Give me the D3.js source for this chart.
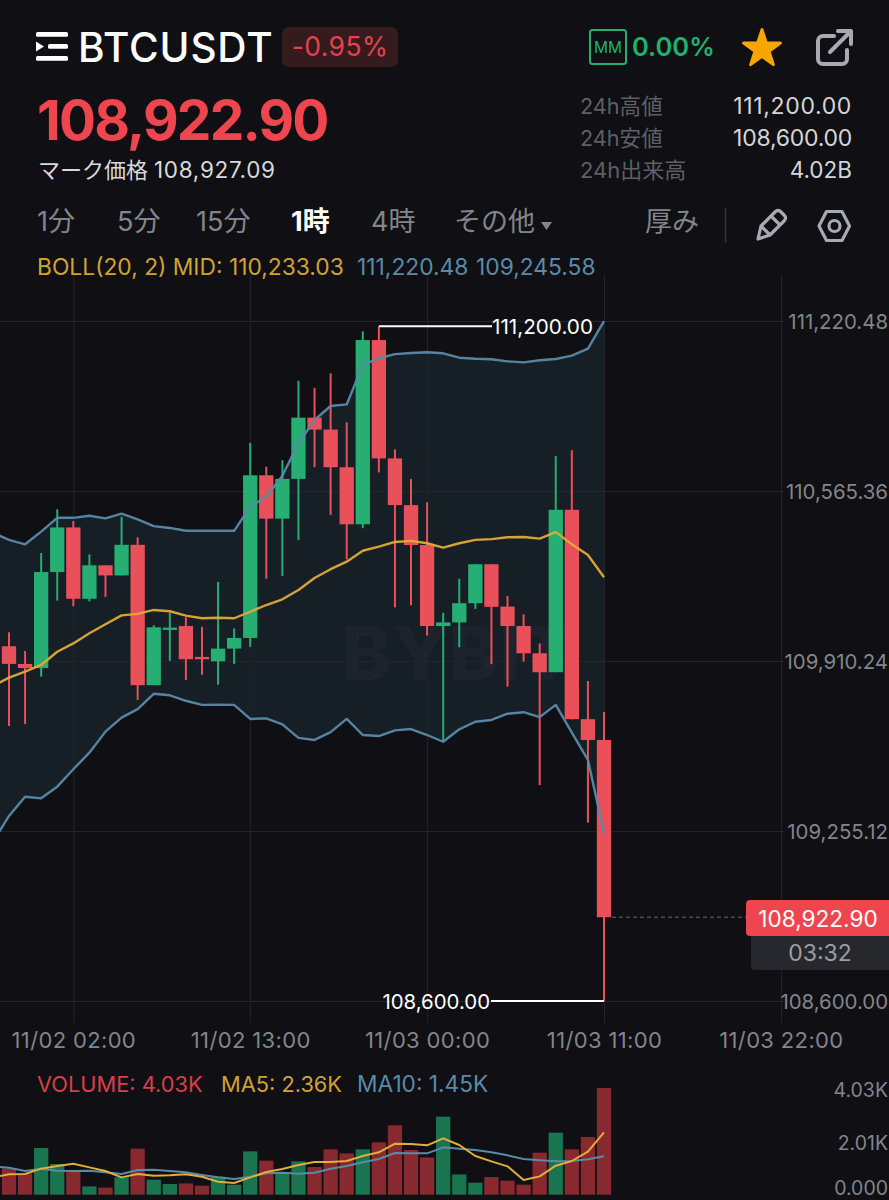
<!DOCTYPE html>
<html><head><meta charset="utf-8">
<script src="https://cdn.jsdelivr.net/npm/d3@7/dist/d3.min.js"></script>
<style>
html,body{margin:0;padding:0;background:#0f0f14;overflow:hidden}
svg{display:block}
text{font-family:Inter,"Noto Sans CJK JP",sans-serif}
</style></head><body>
<svg id="c" width="889" height="1200"></svg>
<script>
// ---------- data ----------
const firstHour = Date.UTC(2025,10,1,22);
const opens  = [109967,109899,109883,110253,110425,110150,110279,110240,110358,109817,110030,110045,109926,109909,109958,109999,110626,110459,110612,110848,110802,110657,110437,111147,110691,110511,110357,110045,110059,110133,110283,110120,110045,109940,109867,110493,109686,109606];
const closes = [109899,109883,110253,110425,110150,110279,110240,110358,109817,110040,110039,109917,109917,109958,109999,110626,110459,110612,110848,110802,110657,110437,111147,110691,110511,110357,110045,110059,110133,110283,110119,110045,109940,109867,110493,109686,109606,108922.9];
const highs  = [110021,109949,110326,110495,110450,110321,110279,110466,110387,110048,110096,110079,110042,110215,110036,110751,110659,110684,110990,110963,111019,110830,111181,111200,110726,110612,110522,110096,110227,110283,110283,110161,110090,109978,110700,110722,109833,109714];
const lows   = [109660,109667,109850,110143,110121,110140,110157,110240,109760,109817,109911,109837,109857,109819,109899,109965,110227,110238,110376,110657,110473,110302,110422,110637,110117,110125,110008,109602,109963,110111,109898,109811,109908,109432,109867,109686,109287,108600];
const bollMid = [109814,109846,109869,109895,109946,109978,110017,110052,110086,110092,110107,110102,110085,110075,110077,110075,110100,110126,110148,110184,110230,110264,110293,110335,110351,110369,110373,110364,110347,110364,110377,110380,110387,110388,110382,110407,110360,110319,110233];
const bollUp  = [110405,110377,110360,110409,110462,110462,110470,110460,110478,110456,110430,110423,110412,110412,110412,110412,110505,110543,110624,110749,110839,110893,110899,111051,111077,111093,111097,111100,111096,111079,111075,111073,111065,111061,111069,111074,111087,111114,111220];
const bollLow = [109213,109313,109387,109381,109426,109493,109557,109638,109692,109725,109784,109778,109757,109741,109742,109741,109687,109689,109666,109614,109606,109636,109687,109625,109621,109643,109648,109625,109599,109647,109676,109683,109707,109713,109694,109741,109634,109529,109246];
const volumes = [994,805,1765,1160,869,314,265,654,1739,567,404,427,340,680,378,1637,1285,805,1259,1047,1712,1561,1712,1977,2620,1690,1410,2948,767,454,669,529,378,1588,2344,1712,2181,4030];
const ma5  = [655,769,781,983,1084,1172,1033,895,655,781,718,731,769,680,491,441,655,857,970,1121,1235,1235,1273,1462,1600,1928,1915,1865,2129,1877,1462,1260,1071,554,693,1096,1273,1625,2356];
const ma10 = [1058,1021,895,983,907,895,907,844,781,932,945,895,844,743,655,592,680,806,832,794,832,983,1084,1222,1348,1575,1562,1562,1789,1739,1688,1600,1487,1348,1298,1260,1273,1336,1449];
const priceTicks = [111220.48,110565.36,109910.24,109255.12,108600];
const volTicks = [[4030,"4.03K"],[2015,"2.01K"],[0,"0.000"]];
const timeTicks = [Date.UTC(2025,10,2,2),Date.UTC(2025,10,2,13),Date.UTC(2025,10,3,0),Date.UTC(2025,10,3,11),Date.UTC(2025,10,3,22)];
const tabs = [["1分",37],["5分",117],["15分",196],["4時",371],["その他",454],["厚み",645]];
const stats = [["24h高値","111,200.00"],["24h安値","108,600.00"],["24h出来高","4.02B"]];

// ---------- palette ----------
const GRID="#23252b",RED="#e9505a",GREEN="#27ae72",VRED="#87292f",VGREEN="#1b7450",
      BLUE="#5a8aa8",YEL="#e0aa38",GRAY="#82858b",DIM="#5d6066";

const svg=d3.select("#c");
const H=3600000;
const t=i=>new Date(firstHour+i*H);
const x=d3.scaleUtc().domain([t(0),t(37)]).range([9,604]);
const y=d3.scaleLinear().domain([108600,111220.48]).range([1001,321]);
const vy=d3.scaleLinear().domain([0,4030]).range([1194.7,1088]);
const txt=(px,py,s,size,fill,o={})=>svg.append("text").attr("x",px).attr("y",py).text(s)
  .attr("font-size",size).attr("fill",fill).attr("text-anchor",o.a||"start").attr("font-weight",o.w||400)
  .attr("letter-spacing",o.ls||null);

// ---------- header ----------
const logo=svg.append("g").attr("fill","#fff");
[[36,32,32,4.7],[48,44,20,4.7],[36,56,32,4.7]].forEach(r=>logo.append("rect").attr("x",r[0]).attr("y",r[1]).attr("width",r[2]).attr("height",r[3]).attr("rx",1.5));
logo.append("path").attr("d","M36 41.5 L44 46.5 L36 51.5 Z");
txt(78,62,"BTCUSDT",40.5,"#fff",{w:500,ls:.8});
svg.append("rect").attr("x",282).attr("y",27).attr("width",116).attr("height",40).attr("rx",7).attr("fill","#351a1e");
txt(340,56,"-0.95%",26.5,"#e2434d",{a:"middle",ls:.4});
svg.append("rect").attr("x",590).attr("y",30).attr("width",36).attr("height",34).attr("rx",2.5).attr("fill","none").attr("stroke",GREEN).attr("stroke-width",2);
txt(608,53,"MM",15.5,GREEN,{a:"middle"});
txt(632,56,"0.00%",25.5,"#20b26c",{w:600});
svg.append("path").attr("transform","translate(762,49)")
  .attr("d",d3.symbol().type(d3.symbolStar).size(420)()).attr("fill","#f7a600").attr("stroke","#f7a600").attr("stroke-width",3).attr("stroke-linejoin","round");
svg.append("path").attr("d","M834 36 H823 a5 5 0 0 0 -5 5 V59 a5 5 0 0 0 5 5 H842 a5 5 0 0 0 5 -5 V50 M830 52 L851 31 M838 31 H851 V44")
  .attr("fill","none").attr("stroke","#a8aab0").attr("stroke-width",4).attr("stroke-linecap","round").attr("stroke-linejoin","round");

txt(37,140,"108,922.90",55,"#ef454f",{w:700,ls:-1.8});
txt(38,178,"マーク価格",22,"#d8d9dc");
txt(154,178,"108,927.09",22.5,"#d8d9dc",{ls:.7});
stats.forEach((s,i)=>{
  txt(580,114+i*32,s[0],i===2?22:21.6,DIM);
  txt(852,114+i*32,s[1],i===2?22.5:23,"#d4d5d8",{a:"end",ls:i===2?null:(i===1?-.25:.65)});
});
tabs.forEach(d=>txt(d[1],231,d[0],27,GRAY));
txt(291,231,"1時",27,"#fff",{w:700});
svg.append("path").attr("d","M541 222 H552 L546.5 230 Z").attr("fill",GRAY);
svg.append("line").attr("x1",725.5).attr("x2",725.5).attr("y1",208).attr("y2",243).attr("stroke","#303238").attr("stroke-width",1.5);
const ic=svg.append("g").attr("fill","none").attr("stroke","#a8aab0").attr("stroke-width",3.2).attr("stroke-linejoin","round").attr("stroke-linecap","round");
ic.append("path").attr("d","M758 239 L761 226 L775 212 Q778 209 781 212 L784 215 Q787 218 784 221 L770 235 Z M761 226 L770 235 M771 216 L780 225");
ic.append("path").attr("d","M819 226 L826.5 211.5 H842 L849.5 226 L842 240.5 H826.5 Z");
ic.append("circle").attr("cx",834.5).attr("cy",226).attr("r",5.5);

const lg=(px,s,f)=>txt(px,275,s,22.8,f);
lg(37,"BOLL(20, 2) MID: 110,233.03","#d0a233");
lg(357,"111,220.48",BLUE);
lg(476,"109,245.58",BLUE);

// ---------- grid & axes ----------
const axT=svg.append("g").attr("transform","translate(0,1023)")
  .call(d3.axisBottom(x).tickValues(timeTicks).tickSize(748).tickSizeOuter(0).tickFormat(d3.utcFormat("%m/%d %H:%M")));
axT.select(".domain").remove();
axT.selectAll("line").attr("y1",0).attr("y2",-748).attr("stroke",GRID).attr("stroke-width",1);
axT.selectAll("text").attr("y",25).attr("dy",0).attr("font-size",22).attr("letter-spacing",.35).attr("fill",GRAY).attr("font-family",null);

const axY=svg.append("g").call(d3.axisRight(y).tickValues(priceTicks).tickSize(784).tickFormat(d3.format(",.2f")));
axY.select(".domain").remove();
axY.selectAll("line").attr("stroke",GRID).attr("stroke-width",1);
axY.selectAll("text").attr("x",888).attr("dy",".36em").attr("text-anchor","end").attr("font-size",20.4).attr("fill",GRAY).attr("font-family",null);

// ---------- band ----------
const idx=d3.range(-1,38);
const area=d3.area().x(i=>x(t(i))).y0(i=>y(bollLow[i+1])).y1(i=>y(bollUp[i+1]));
svg.append("path").datum(idx).attr("d",area).attr("fill","#161e26");
axT.raise();axY.raise();

// watermark
txt(342,680,"BYBIT",74,"#1c232c",{w:800,ls:1});

// ---------- candles ----------
const cg=svg.append("g");
const cw=14.3;
opens.forEach((o,i)=>{
  const c=closes[i],col=c>o?GREEN:RED,cx=x(t(i));
  cg.append("line").attr("x1",cx).attr("x2",cx).attr("y1",y(highs[i])).attr("y2",y(lows[i])).attr("stroke",col).attr("stroke-width",2);
  cg.append("rect").attr("x",cx-cw/2).attr("width",cw).attr("y",y(Math.max(o,c))).attr("height",Math.max(1.5,Math.abs(y(o)-y(c)))).attr("fill",col);
});

// ---------- boll lines ----------
const ln=(arr)=>d3.line().x(i=>x(t(i))).y(i=>y(arr[i+1]));
[[bollUp,BLUE],[bollLow,BLUE],[bollMid,YEL]].forEach(d=>{
  svg.append("path").datum(idx).attr("d",ln(d[0])).attr("fill","none").attr("stroke",d[1]).attr("stroke-width",2.4).attr("stroke-linejoin","round").attr("opacity",.95);
});

// ---------- hi/lo markers ----------
const W="#ffffff";
svg.append("line").attr("x1",x(t(23))).attr("x2",492).attr("y1",y(111200)).attr("y2",y(111200)).attr("stroke",W).attr("stroke-width",2);
txt(492,y(111200)+8,d3.format(",.2f")(111200),20.7,W);
svg.append("line").attr("x1",491).attr("x2",x(t(37))).attr("y1",y(108600)).attr("y2",y(108600)).attr("stroke",W).attr("stroke-width",2);
txt(490,y(108600)+8,d3.format(",.2f")(108600),20.4,W,{a:"end"});

// ---------- last price ----------
svg.append("line").attr("x1",612).attr("x2",746).attr("y1",y(108922.9)).attr("y2",y(108922.9)).attr("stroke","#6a6d73").attr("stroke-width",1).attr("stroke-dasharray","4 3");
svg.append("rect").attr("x",751).attr("y",930).attr("width",150).attr("height",40).attr("rx",4).attr("fill","#26282d");
svg.append("rect").attr("x",746).attr("y",900).attr("width",155).attr("height",36).attr("rx",4).attr("fill","#ef454f");
txt(818,927,"108,922.90",22.6,"#fff",{a:"middle"});
txt(820,961,"03:32",23,"#9a9da3",{a:"middle"});

// ---------- volume ----------
txt(37,1092,"VOLUME: 4.03K",21.8,"#d6404a");
txt(221,1092,"MA5: 2.36K",21.8,"#d0a233");
txt(357,1092,"MA10: 1.45K",22.7,BLUE);
const vg=svg.append("g");
volumes.forEach((v,i)=>{
  const up=closes[i]>opens[i];
  vg.append("rect").attr("x",x(t(i))-cw/2).attr("width",cw).attr("y",vy(v)).attr("height",vy(0)-vy(v)).attr("fill",up?VGREEN:VRED);
});
[[ma10,BLUE],[ma5,"#e2ad3a"]].forEach(d=>{
  svg.append("path").datum(idx).attr("d",d3.line().x(i=>x(t(i))).y(i=>vy(d[0][i+1]))).attr("fill","none").attr("stroke",d[1]).attr("stroke-width",2).attr("stroke-linejoin","round");
});
volTicks.forEach(d=>{
  txt(888,vy(d[0])+(d[0]===0?0:9),d[1],19.5,GRAY,{a:"end"});
});
</script></body></html>
